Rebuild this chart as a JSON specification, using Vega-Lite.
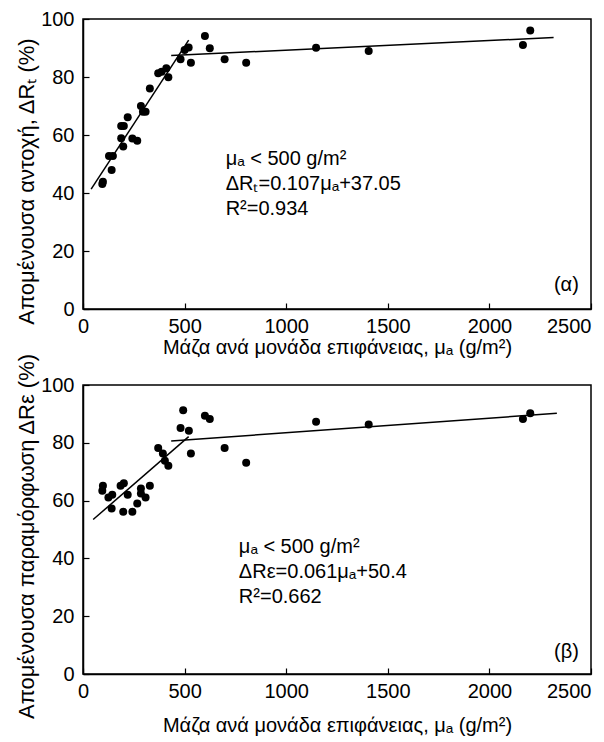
{
  "$schema": "https://vega.github.io/schema/vega-lite/v6.json",
  "background": "white",
  "padding": {"left": 14, "top": 8, "right": 10, "bottom": 5},
  "spacing": -6,
  "config": {
    "font": "Liberation Sans",
    "view": {"stroke": "black", "strokeWidth": 1.5},
    "axis": {
      "grid": false,
      "domainColor": "black",
      "domainWidth": 1.5,
      "tickColor": "black",
      "tickWidth": 1.2,
      "tickSize": -6,
      "labelColor": "black",
      "titleColor": "black",
      "labelFont": "Liberation Sans",
      "titleFont": "Liberation Sans",
      "labelFontSize": 20,
      "titleFontSize": 22,
      "titleFontWeight": "normal",
      "labelFlush": false,
      "labelOverlap": false,
      "format": "d"
    },
    "axisX": {"titleFontSize": 20}
  },
  "vconcat": [
    {
      "width": 508,
      "height": 290,
      "layer": [
        {
          "data": {"values": [
            {"m": 95, "r": 43.1}, {"m": 98, "r": 43.9}, {"m": 128, "r": 52.8}, {"m": 147, "r": 52.8},
            {"m": 141, "r": 47.9}, {"m": 188, "r": 58.9}, {"m": 198, "r": 56}, {"m": 188, "r": 63.1},
            {"m": 201, "r": 63.1}, {"m": 220, "r": 66.1}, {"m": 243, "r": 58.8}, {"m": 267, "r": 58},
            {"m": 285, "r": 70}, {"m": 295, "r": 68}, {"m": 308, "r": 68}, {"m": 329, "r": 76},
            {"m": 370, "r": 81.3}, {"m": 387, "r": 81.8}, {"m": 410, "r": 83}, {"m": 420, "r": 79.9},
            {"m": 480, "r": 86.1}, {"m": 500, "r": 89.3}, {"m": 520, "r": 90.2}, {"m": 531, "r": 84.9},
            {"m": 600, "r": 94.1}, {"m": 624, "r": 89.9}, {"m": 697, "r": 86.1}, {"m": 803, "r": 84.9},
            {"m": 1147, "r": 90.1}, {"m": 1406, "r": 89}, {"m": 2165, "r": 91}, {"m": 2201, "r": 96}
          ]},
          "mark": {"type": "circle", "size": 64, "color": "black", "opacity": 1},
          "encoding": {
            "x": {"field": "m", "type": "quantitative", "scale": {"domain": [0, 2500], "nice": false},
              "axis": {"values": [0, 500, 1000, 1500, 2000, 2500], "title": "Μάζα ανά μονάδα επιφάνειας, μₐ (g/m²)",
                "labelPadding": 13, "titlePadding": 1,
                "labelAlign": {"condition": {"test": "datum.value >= 2500", "value": "right"}, "value": "center"}}},
            "y": {"field": "r", "type": "quantitative", "scale": {"domain": [0, 100], "nice": false},
              "axis": {"values": [0, 20, 40, 60, 80, 100], "title": "Απομένουσα αντοχή, ΔRₜ (%)",
                "labelPadding": 15, "titlePadding": 2, "titleY": 162}}
          }
        },
        {
          "data": {"values": [
            {"seg": "a", "m": 40, "r": 41.33}, {"seg": "a", "m": 520, "r": 92.69},
            {"seg": "b", "m": 434, "r": 87.4}, {"seg": "b", "m": 2316, "r": 93.6}
          ]},
          "mark": {"type": "line", "color": "black", "strokeWidth": 1.5},
          "encoding": {
            "x": {"field": "m", "type": "quantitative"},
            "y": {"field": "r", "type": "quantitative"},
            "detail": {"field": "seg"}
          }
        },
        {
          "data": {"values": [
            {"m": 702, "r": 49.6, "t": ["μₐ < 500 g/m²", "ΔRₜ=0.107μₐ+37.05", "R²=0.934"]}
          ]},
          "mark": {"type": "text", "align": "left", "baseline": "alphabetic", "fontSize": 20, "lineHeight": 25, "color": "black"},
          "encoding": {
            "x": {"field": "m", "type": "quantitative"},
            "y": {"field": "r", "type": "quantitative"},
            "text": {"field": "t"}
          }
        },
        {
          "data": {"values": [{"m": 2440, "r": 6.2, "t": "(α)"}]},
          "mark": {"type": "text", "align": "right", "baseline": "alphabetic", "fontSize": 20, "color": "black"},
          "encoding": {
            "x": {"field": "m", "type": "quantitative"},
            "y": {"field": "r", "type": "quantitative"},
            "text": {"field": "t"}
          }
        }
      ]
    },
    {
      "width": 508,
      "height": 289,
      "layer": [
        {
          "data": {"values": [
            {"m": 98, "r": 65.1}, {"m": 95, "r": 63.4}, {"m": 125, "r": 61.1}, {"m": 144, "r": 62},
            {"m": 141, "r": 57.3}, {"m": 185, "r": 65.1}, {"m": 201, "r": 66}, {"m": 220, "r": 62},
            {"m": 198, "r": 56.1}, {"m": 243, "r": 56.1}, {"m": 267, "r": 59}, {"m": 285, "r": 64.2},
            {"m": 285, "r": 62.5}, {"m": 308, "r": 61.1}, {"m": 329, "r": 65.1}, {"m": 370, "r": 78.2},
            {"m": 393, "r": 76.3}, {"m": 403, "r": 73.8}, {"m": 420, "r": 72.1}, {"m": 480, "r": 85.1},
            {"m": 493, "r": 91.3}, {"m": 521, "r": 84.2}, {"m": 531, "r": 76.3}, {"m": 600, "r": 89.4},
            {"m": 624, "r": 88.2}, {"m": 697, "r": 78.2}, {"m": 803, "r": 73.1}, {"m": 1147, "r": 87.3},
            {"m": 1406, "r": 86.3}, {"m": 2165, "r": 88.2}, {"m": 2201, "r": 90.2}
          ]},
          "mark": {"type": "circle", "size": 64, "color": "black", "opacity": 1},
          "encoding": {
            "x": {"field": "m", "type": "quantitative", "scale": {"domain": [0, 2500], "nice": false},
              "axis": {"values": [0, 500, 1000, 1500, 2000, 2500], "title": "Μάζα ανά μονάδα επιφάνειας, μₐ (g/m²)",
                "labelPadding": 13, "titlePadding": 14,
                "labelAlign": {"condition": {"test": "datum.value >= 2500", "value": "right"}, "value": "center"}}},
            "y": {"field": "r", "type": "quantitative", "scale": {"domain": [0, 100], "nice": false},
              "axis": {"values": [0, 20, 40, 60, 80, 100], "title": "Απομένουσα παραμόρφωση ΔRε (%)",
                "labelPadding": 15, "titlePadding": 2, "titleY": 151}}
          }
        },
        {
          "data": {"values": [
            {"seg": "a", "m": 50, "r": 53.45}, {"seg": "a", "m": 520, "r": 82.12},
            {"seg": "b", "m": 434, "r": 80.6}, {"seg": "b", "m": 2332, "r": 90.2}
          ]},
          "mark": {"type": "line", "color": "black", "strokeWidth": 1.5},
          "encoding": {
            "x": {"field": "m", "type": "quantitative"},
            "y": {"field": "r", "type": "quantitative"},
            "detail": {"field": "seg"}
          }
        },
        {
          "data": {"values": [
            {"m": 767, "r": 41.7, "t": ["μₐ < 500 g/m²", "ΔRε=0.061μₐ+50.4", "R²=0.662"]}
          ]},
          "mark": {"type": "text", "align": "left", "baseline": "alphabetic", "fontSize": 20, "lineHeight": 25, "color": "black"},
          "encoding": {
            "x": {"field": "m", "type": "quantitative"},
            "y": {"field": "r", "type": "quantitative"},
            "text": {"field": "t"}
          }
        },
        {
          "data": {"values": [{"m": 2440, "r": 5.5, "t": "(β)"}]},
          "mark": {"type": "text", "align": "right", "baseline": "alphabetic", "fontSize": 20, "color": "black"},
          "encoding": {
            "x": {"field": "m", "type": "quantitative"},
            "y": {"field": "r", "type": "quantitative"},
            "text": {"field": "t"}
          }
        }
      ]
    }
  ]
}
